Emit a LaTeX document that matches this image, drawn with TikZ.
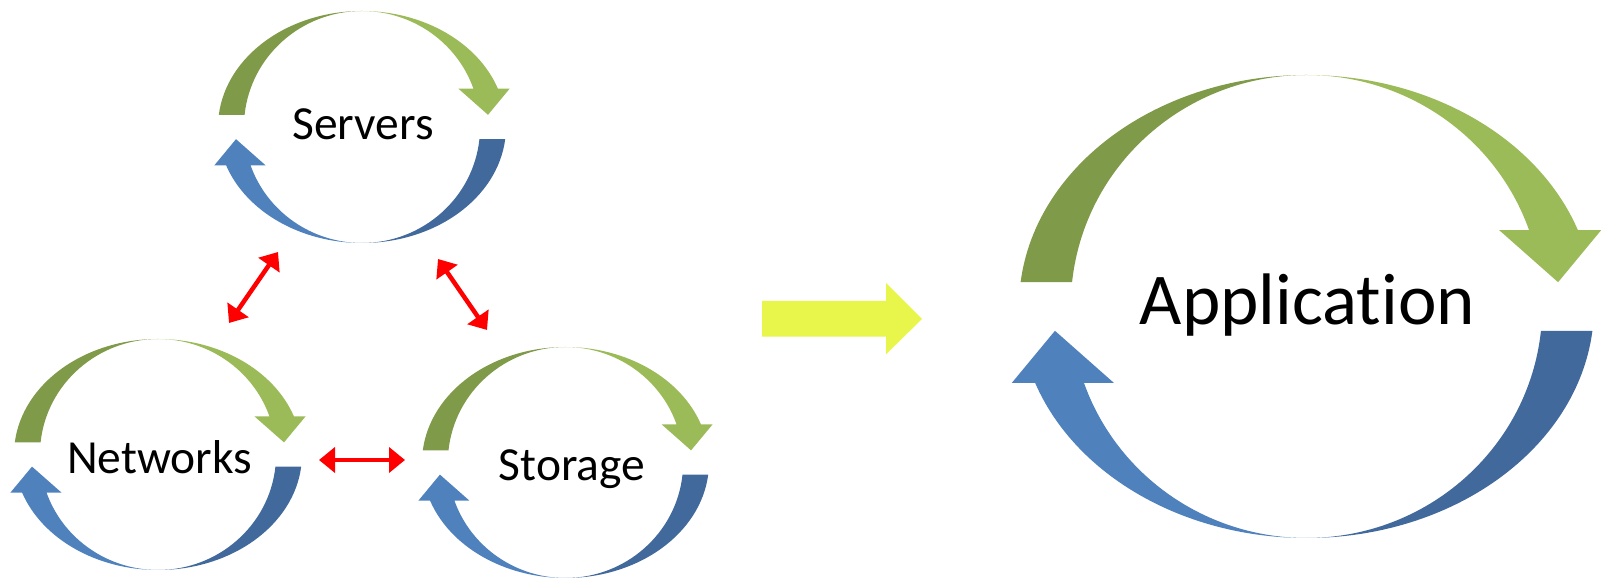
\documentclass[tikz,border=0pt]{standalone}
\usepackage{fontspec}
\setmainfont[Ligatures=NoCommon]{Carlito}
\usetikzlibrary{arrows.meta}
\definecolor{olivedark}{HTML}{7F9A48}
\definecolor{olivelight}{HTML}{9BBB59}
\definecolor{bluedark}{HTML}{41699C}
\definecolor{bluelight}{HTML}{4F81BD}
\definecolor{flow}{HTML}{E8F54B}
% two crescent arrows round a centre: #1 centre, #2 x radius, #3 y radius
\newcommand{\loopring}[3]{%
  \begin{scope}[shift={#1},xscale=#2,yscale=#3]
    \foreach \dk/\lt/\rot in {olivedark/olivelight/0,bluedark/bluelight/180}{
      \begin{scope}[rotate=\rot]
        \fill[\dk] (173.97:1) arc[start angle=173.97,end angle=90,radius=1]
          arc[start angle=90,end angle=173.97,x radius=0.82,y radius=1] -- cycle;
        \fill[\lt] (0,1) arc[start angle=90,end angle=19.27,radius=1]
          -- (1.025,0.33) -- (0.875,0.105) -- (0.67,0.33) -- (0.774,0.33)
          arc[start angle=19.27,end angle=90,x radius=0.82,y radius=1] -- cycle;
      \end{scope}
    }
  \end{scope}}

\begin{document}
\begin{tikzpicture}[x=1pt,y=1pt]
  \tikzset{lbl/.style={anchor=base,font=\fontsize{47.5}{57}\selectfont},
    link/.style={red,line width=4.5pt,
      {Triangle[length=16pt,width=25pt]}-{Triangle[length=16pt,width=25pt]}}}
  \useasboundingbox (0,0) rectangle (1602,580);
  % small cycles
  \loopring{(362,453)}{144}{116}
  \loopring{(158,125.5)}{144}{115.5}
  \loopring{(565.5,117.5)}{143.5}{115.5}
  \node[lbl] (servers) at (363,440) {Servers};
  \node[lbl] (networks) at (159.5,106.5) {Networks};
  \node[lbl] (storage) at (572,99) {Storage};
  % links between them
  \coordinate (sv-nw) at (278,328);
  \coordinate (nw-sv) at (229,257);
  \coordinate (sv-st) at (438,321);
  \coordinate (st-sv) at (487,250);
  \coordinate (nw-st) at (319,120);
  \coordinate (st-nw) at (405,120);
  \draw[link] (nw-sv) -- (sv-nw);
  \draw[link] (sv-st) -- (st-sv);
  \draw[link] (nw-st) -- (st-nw);
  % block arrow
  \fill[flow] (762,279) -- (886,279) -- (886,297) -- (922,261)
    -- (886,225.7) -- (886,243.3) -- (762,243.3) -- cycle;
  % big cycle
  \loopring{(1306.5,273.5)}{287.5}{231.5}
  \node[lbl,font=\fontsize{73}{88}\selectfont] (app) at (1307.5,255) {Application};
\end{tikzpicture}
\end{document}
